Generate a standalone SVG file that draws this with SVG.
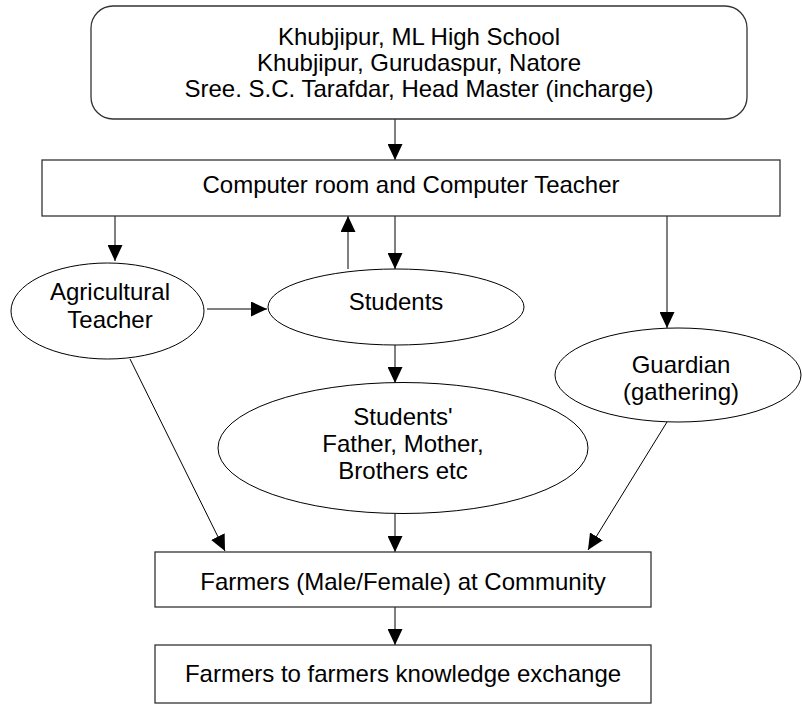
<svg xmlns="http://www.w3.org/2000/svg" width="802" height="704" viewBox="0 0 802 704">
<defs>
<marker id="ah" markerUnits="userSpaceOnUse" markerWidth="16" markerHeight="15" refX="16" refY="7.5" orient="auto" viewBox="0 0 16 15">
<path d="M0,0 L16,7.5 L0,15 z" fill="#000"/>
</marker>
</defs>
<style>
text{font-family:"Liberation Sans",Arial,sans-serif;font-size:24px;fill:#000;text-anchor:middle}
.box{fill:#fff;stroke:#333;stroke-width:1.3}
.ell{fill:#fff;stroke:#000;stroke-width:1}
.con{fill:none;stroke:#000;stroke-width:1;marker-end:url(#ah)}
</style>
<rect width="802" height="704" fill="#fff"/>
<g id="connectors">
<line class="con" x1="395" y1="119" x2="395" y2="160"/>
<line class="con" x1="115" y1="216" x2="115" y2="261"/>
<line class="con" x1="348" y1="269" x2="348" y2="216"/>
<line class="con" x1="395" y1="216" x2="395" y2="269"/>
<line class="con" x1="667" y1="216" x2="667" y2="328"/>
<line class="con" x1="207" y1="309" x2="267" y2="309"/>
<line class="con" x1="395" y1="345" x2="395" y2="383"/>
<line class="con" x1="395" y1="514" x2="395" y2="552"/>
<line class="con" x1="130" y1="359" x2="225" y2="551"/>
<line class="con" x1="667" y1="422" x2="588" y2="550"/>
<line class="con" x1="395" y1="607" x2="395" y2="645"/>
</g>
<g id="school">
<rect class="box" x="91" y="6" width="656" height="113" rx="22" ry="22"/>
<text x="419" y="45">Khubjipur, ML High School</text>
<text x="419" y="71">Khubjipur, Gurudaspur, Natore</text>
<text x="419" y="97">Sree. S.C. Tarafdar, Head Master (incharge)</text>
</g>
<g id="computer">
<rect class="box" x="42" y="160" width="738" height="56"/>
<text x="411" y="193">Computer room and Computer Teacher</text>
</g>
<g id="agri">
<ellipse class="ell" cx="107.5" cy="311" rx="96.5" ry="48"/>
<text x="110" y="300">Agricultural</text>
<text x="110" y="328">Teacher</text>
</g>
<g id="students">
<ellipse class="ell" cx="396" cy="307" rx="128" ry="38"/>
<text x="396" y="310">Students</text>
</g>
<g id="guardian">
<ellipse class="ell" cx="678" cy="375" rx="123" ry="47"/>
<text x="681" y="373">Guardian</text>
<text x="681" y="400">(gathering)</text>
</g>
<g id="family">
<ellipse class="ell" cx="403" cy="448" rx="185" ry="65.5"/>
<text x="403" y="425">Students'</text>
<text x="403" y="452">Father, Mother,</text>
<text x="403" y="479">Brothers etc</text>
</g>
<g id="farmers">
<rect class="box" x="155" y="552" width="496" height="55"/>
<text x="403" y="590">Farmers (Male/Female) at Community</text>
</g>
<g id="exchange">
<rect class="box" x="155" y="645" width="496" height="58"/>
<text x="403" y="682">Farmers to farmers knowledge exchange</text>
</g>
</svg>
